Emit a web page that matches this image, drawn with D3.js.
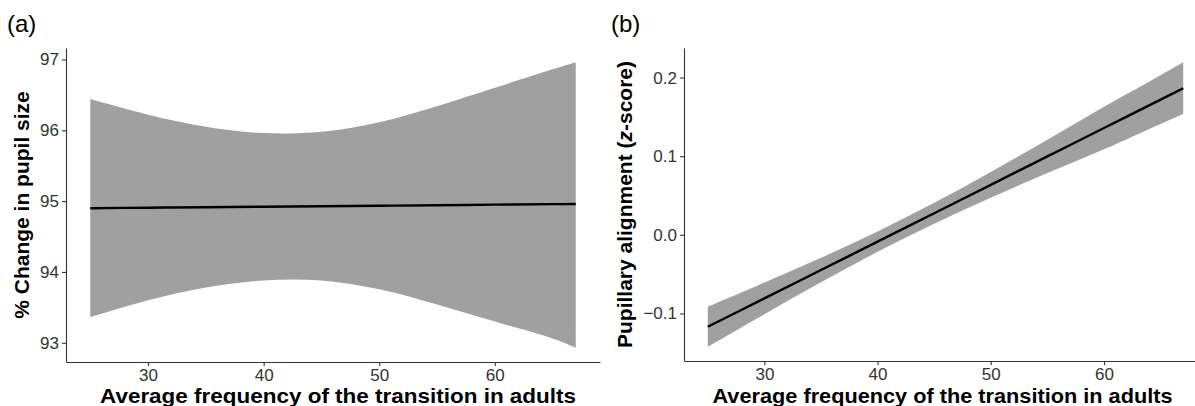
<!DOCTYPE html>
<html>
<head>
<meta charset="utf-8">
<script src="https://cdn.jsdelivr.net/npm/d3@7"></script>
<style>
  body { margin: 0; background: #fff; }
  svg { display: block; font-family: "Liberation Sans", Arial, sans-serif; }
  .tick text { fill: #333; font-size: 17px; }
  .domain, .tick line { stroke: #333; stroke-width: 1.1; }
  .axis-title { font-weight: bold; font-size: 21px; fill: #000; }
  .panel-tag { font-size: 24px; fill: #000; }
</style>
</head>
<body>
<svg width="1195" height="406"></svg>
<script>
// Values at a few x positions
const freq = [25, 30, 35, 40, 45, 50, 55, 60, 65, 67]

// (a) % change in pupil size: fit, lower and upper band
const pupilFit = [94.90, 94.907, 94.914, 94.921, 94.928, 94.935, 94.942, 94.95, 94.957, 94.96]
const pupilLow = [93.36, 93.60, 93.78, 93.88, 93.88, 93.755, 93.54, 93.30, 93.06, 92.93]
const pupilHigh = [96.44, 96.22, 96.05, 95.96, 95.98, 96.115, 96.34, 96.60, 96.86, 96.96]

// (b) pupillary alignment (z-score)
const alignFit = [-0.117, -0.0809, -0.0448, -0.0087, 0.0274, 0.0636, 0.0997, 0.1358, 0.1719, 0.1864]
const alignLow = [-0.1424, -0.101, -0.0604, -0.0217, 0.0141, 0.0472, 0.0785, 0.1088, 0.141, 0.1537]
const alignHigh = [-0.0915, -0.0608, -0.0292, 0.0043, 0.0407, 0.08, 0.1209, 0.1628, 0.203, 0.2195]

const xTicks = [30, 40, 50, 60]
const pupilTicks = [93, 94, 95, 96, 97]
const alignTicks = [-0.1, 0.0, 0.1, 0.2]

const svg = d3.select('svg')

// ggplot style 5% padding on both ends
const padded = (lo, hi) => {
  const pad = (hi - lo) * 0.05
  return [lo - pad, hi + pad]
}

function drawPanel(opts) {
  const { left, right, top, bottom, fit, low, high, ticks, fmt, tag, tagX, titleX, titleLen, yTitle } = opts
  const g = svg.append('g')

  const x = d3.scaleLinear().domain(padded(d3.min(freq), d3.max(freq))).range([left, right])
  const y = d3.scaleLinear()
    .domain(padded(d3.min(low), d3.max(high)))
    .range([bottom, top])

  const rows = freq.map((f, i) => ({ f, fit: fit[i], low: low[i], high: high[i] }))

  g.append('path')
    .datum(rows)
    .attr('fill', '#a0a0a0')
    .attr('d', d3.area()
      .x((d) => x(d.f))
      .y0((d) => y(d.low))
      .y1((d) => y(d.high))
      .curve(d3.curveCatmullRom.alpha(0.5)))

  g.append('path')
    .datum(rows)
    .attr('fill', 'none')
    .attr('stroke', '#000')
    .attr('stroke-width', 2.4)
    .attr('d', d3.line()
      .x((d) => x(d.f))
      .y((d) => y(d.fit))
      .curve(d3.curveCatmullRom.alpha(0.5)))

  g.append('g')
    .attr('transform', `translate(0,${bottom})`)
    .call(d3.axisBottom(x).tickValues(xTicks).tickSize(4).tickPadding(3).tickSizeOuter(0))

  g.append('g')
    .attr('transform', `translate(${left},0)`)
    .call(d3.axisLeft(y).tickValues(ticks).tickFormat(fmt).tickSize(4).tickPadding(3).tickSizeOuter(0))

  g.append('text')
    .attr('class', 'axis-title')
    .attr('x', (left + Math.min(right, 1195)) / 2 + (right > 1195 ? 3 : 5))
    .attr('y', 403)
    .attr('text-anchor', 'middle')
    .attr('textLength', titleLen)
    .attr('lengthAdjust', 'spacingAndGlyphs')
    .text('Average frequency of the transition in adults')

  const yt = g.append('text')
    .attr('class', 'axis-title')
    .attr('text-anchor', 'middle')
    .attr('transform', `translate(${titleX},${(top + bottom) / 2}) rotate(-90)`)
  yTitle(yt)

  g.append('text')
    .attr('class', 'panel-tag')
    .attr('x', tagX)
    .attr('y', 32)
    .text(tag)
}

drawPanel({
  left: 66, right: 600, top: 48, bottom: 362,
  fit: pupilFit, low: pupilLow, high: pupilHigh,
  ticks: pupilTicks, fmt: d3.format('d'),
  tag: '(a)', tagX: 7, titleX: 29, titleLen: 476,
  yTitle: (t) => t.text('% Change in pupil size'),
})

drawPanel({
  left: 684, right: 1207, top: 48, bottom: 361,
  fit: alignFit, low: alignLow, high: alignHigh,
  ticks: alignTicks, fmt: d3.format('.1f'),
  tag: '(b)', tagX: 611, titleX: 632, titleLen: 460,
  yTitle: (t) => {
    t.append('tspan').text('Pupillary alignment (')
    t.append('tspan').attr('font-style', 'italic').text('z')
    t.append('tspan').text('-score)')
  },
})
</script>
</body>
</html>
